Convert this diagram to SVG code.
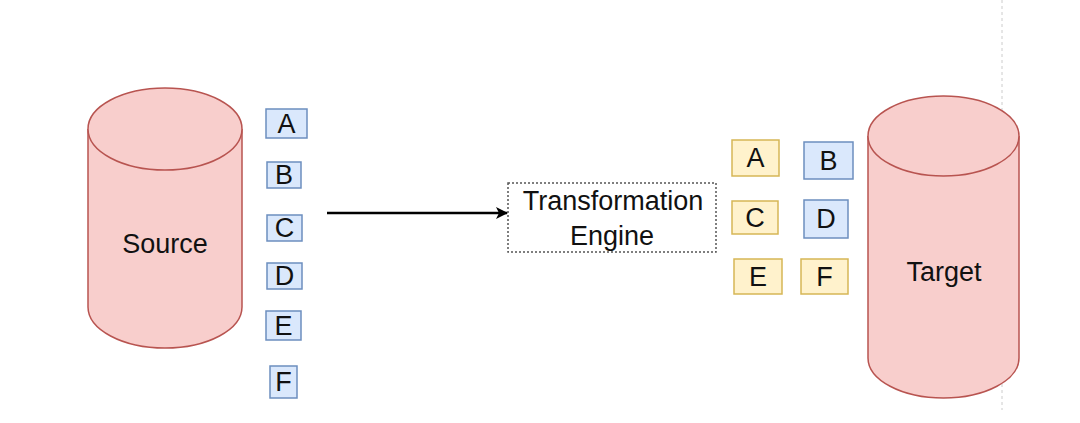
<svg xmlns="http://www.w3.org/2000/svg" width="1080" height="423" viewBox="0 0 1080 423">
<style>
.cyl{fill:#f8cecc;stroke:#b85450;stroke-width:1.5}
.blue{fill:#dae8fc;stroke:#6c8ebf;stroke-width:1.5}
.yel{fill:#fff2cc;stroke:#d6b656;stroke-width:1.5}
text{font-family:"Liberation Sans",Arial,sans-serif;font-size:27px;fill:#111;text-anchor:middle}
</style>
<defs>
<marker id="arr" markerWidth="12" markerHeight="12" refX="11" refY="6" orient="auto" markerUnits="userSpaceOnUse">
<path d="M0,0 L12,6 L0,12 L3,6 Z" fill="#000"/>
</marker>
</defs>
<rect width="1080" height="423" fill="#fff"/>
<line x1="1002" y1="0" x2="1002" y2="410" stroke="#ccc" stroke-width="1" stroke-dasharray="3 3"/>
<g id="source">
<path class="cyl" d="M88,129 A77,41 0 0 1 242,129 L242,307 A77,41 0 0 1 88,307 Z"/>
<path class="cyl" fill="none" d="M88,129 A77,41 0 0 0 242,129"/>
<text x="165" y="253">Source</text>
</g>
<g id="target">
<path class="cyl" d="M868,136 A75.5,40 0 0 1 1019,136 L1019,358 A75.5,40 0 0 1 868,358 Z"/>
<path class="cyl" fill="none" d="M868,136 A75.5,40 0 0 0 1019,136"/>
<text x="944" y="281">Target</text>
</g>
<g id="engine">
<rect x="508" y="183" width="208" height="69" fill="#fff" stroke="#555" stroke-width="1.5" stroke-dasharray="2 2"/>
<text x="613" y="210">Transformation</text>
<text x="612" y="245">Engine</text>
</g>
<g id="src-A"><rect class="blue" x="266" y="109" width="41" height="29"/><text x="286.5" y="133">A</text></g>
<g id="src-B"><rect class="blue" x="267" y="162" width="34" height="26"/><text x="284" y="184">B</text></g>
<g id="src-C"><rect class="blue" x="267" y="215" width="35" height="26"/><text x="284.5" y="237">C</text></g>
<g id="src-D"><rect class="blue" x="267" y="263" width="35" height="26"/><text x="284.5" y="285">D</text></g>
<g id="src-E"><rect class="blue" x="266" y="311" width="35" height="29"/><text x="283.5" y="335">E</text></g>
<g id="src-F"><rect class="blue" x="270" y="366" width="27" height="32"/><text x="283.5" y="391">F</text></g>
<g id="tgt-A"><rect class="yel" x="732" y="140" width="47" height="36"/><text x="755.5" y="167">A</text></g>
<g id="tgt-B"><rect class="blue" x="804" y="142" width="49" height="37"/><text x="828.5" y="170">B</text></g>
<g id="tgt-C"><rect class="yel" x="732" y="201" width="46" height="33"/><text x="755" y="227">C</text></g>
<g id="tgt-D"><rect class="blue" x="804" y="200" width="44" height="38"/><text x="826" y="228">D</text></g>
<g id="tgt-E"><rect class="yel" x="734" y="259" width="48" height="35"/><text x="758" y="286">E</text></g>
<g id="tgt-F"><rect class="yel" x="801" y="259" width="47" height="35"/><text x="824.5" y="286">F</text></g>
<g id="connectors">
<line x1="327" y1="213" x2="507" y2="213" stroke="#000" stroke-width="2.5" marker-end="url(#arr)"/>
</g>
</svg>
